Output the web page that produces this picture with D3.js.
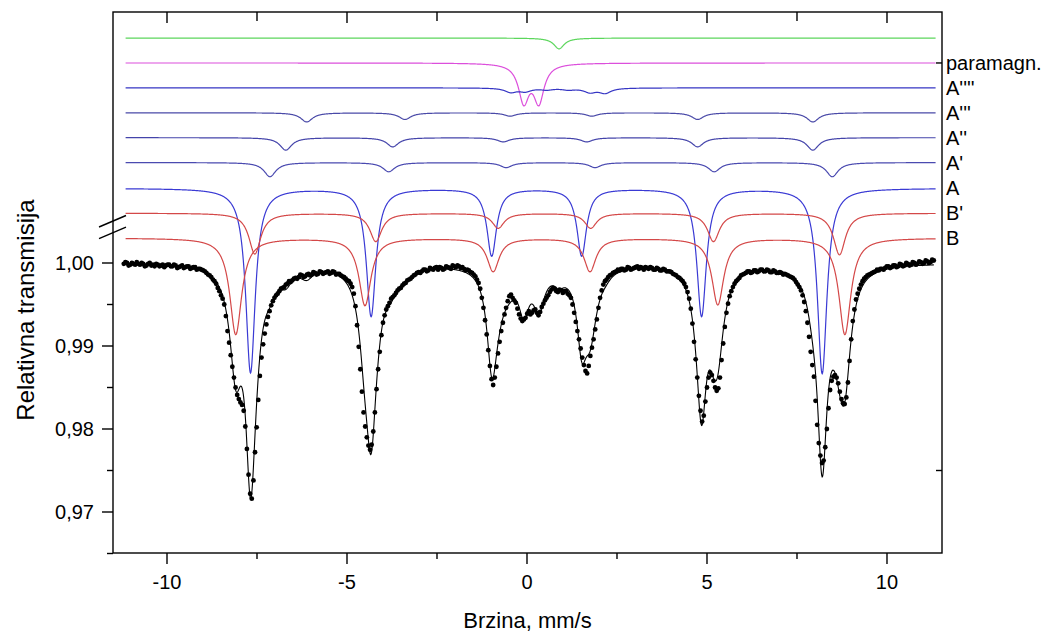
<!DOCTYPE html>
<html><head><meta charset="utf-8">
<script src="https://cdn.jsdelivr.net/npm/d3@7"></script>
<style>
body{margin:0;background:#fff}
svg{display:block}
text{font-family:Arial,"Liberation Sans",sans-serif;fill:#000}
</style></head>
<body><svg id="chart" width="1042" height="639"></svg>
<script>
// ---------- data ----------
const velStart = -11.20, velStep = 0.045;
const transmission = [
0.9999,1.0001,1.0000,0.9997,0.9998,1.0000,0.9999,0.9998,1.0001,0.9999,
0.9998,1.0000,0.9999,0.9996,0.9997,0.9999,1.0000,0.9997,0.9998,0.9996,
0.9999,0.9998,0.9996,0.9997,0.9998,0.9995,0.9997,0.9998,0.9998,0.9996,
0.9996,0.9998,0.9997,0.9994,0.9995,0.9996,0.9997,0.9994,0.9995,0.9996,
0.9996,0.9993,0.9994,0.9995,0.9995,0.9992,0.9993,0.9993,0.9992,0.9991,
0.9990,0.9988,0.9986,0.9985,0.9983,0.9980,0.9978,0.9975,0.9970,0.9966,
0.9961,0.9957,0.9950,0.9936,0.9918,0.9904,0.9889,0.9875,0.9862,0.9850,
0.9841,0.9836,0.9832,0.9829,0.9822,0.9803,0.9776,0.9745,0.9722,0.9716,
0.9738,0.9772,0.9802,0.9835,0.9864,0.9886,0.9902,0.9915,0.9926,0.9935,
0.9942,0.9949,0.9954,0.9958,0.9961,0.9963,0.9966,0.9969,0.9970,0.9971,
0.9974,0.9975,0.9978,0.9977,0.9979,0.9981,0.9982,0.9981,0.9983,0.9986,
0.9985,0.9983,0.9984,0.9986,0.9987,0.9985,0.9986,0.9989,0.9988,0.9986,
0.9987,0.9990,0.9989,0.9987,0.9988,0.9989,0.9990,0.9987,0.9988,0.9990,
0.9989,0.9986,0.9987,0.9987,0.9985,0.9984,0.9983,0.9981,0.9979,0.9978,
0.9975,0.9971,0.9963,0.9948,0.9925,0.9899,0.9872,0.9845,0.9820,0.9803,
0.9790,0.9780,0.9775,0.9781,0.9797,0.9820,0.9848,0.9872,0.9893,0.9913,
0.9928,0.9937,0.9944,0.9948,0.9952,0.9957,0.9959,0.9961,0.9964,0.9967,
0.9969,0.9970,0.9973,0.9975,0.9976,0.9979,0.9980,0.9981,0.9983,0.9985,
0.9986,0.9988,0.9989,0.9988,0.9990,0.9992,0.9992,0.9990,0.9991,0.9994,
0.9993,0.9992,0.9994,0.9995,0.9992,0.9995,0.9994,0.9992,0.9993,0.9996,
0.9995,0.9994,0.9993,0.9997,0.9996,0.9995,0.9997,0.9996,0.9994,0.9995,
0.9993,0.9991,0.9992,0.9991,0.9989,0.9988,0.9986,0.9984,0.9980,0.9976,
0.9969,0.9958,0.9946,0.9931,0.9914,0.9895,0.9876,0.9860,0.9853,0.9862,
0.9875,0.9891,0.9905,0.9918,0.9928,0.9938,0.9946,0.9954,0.9960,0.9962,
0.9958,0.9955,0.9952,0.9945,0.9938,0.9933,0.9930,0.9932,0.9934,0.9939,
0.9942,0.9938,0.9940,0.9943,0.9944,0.9940,0.9937,0.9941,0.9947,0.9951,
0.9955,0.9958,0.9961,0.9965,0.9968,0.9970,0.9969,0.9966,0.9965,0.9968,
0.9967,0.9964,0.9966,0.9966,0.9963,0.9961,0.9958,0.9950,0.9940,0.9929,
0.9918,0.9908,0.9897,0.9886,0.9877,0.9870,0.9867,0.9876,0.9888,0.9898,
0.9908,0.9920,0.9932,0.9946,0.9958,0.9967,0.9974,0.9978,0.9980,0.9983,
0.9985,0.9986,0.9988,0.9989,0.9990,0.9992,0.9991,0.9993,0.9993,0.9991,
0.9992,0.9995,0.9994,0.9992,0.9993,0.9994,0.9995,0.9996,0.9993,0.9995,
0.9994,0.9992,0.9995,0.9994,0.9993,0.9995,0.9994,0.9992,0.9992,0.9994,
0.9993,0.9991,0.9991,0.9993,0.9992,0.9990,0.9990,0.9990,0.9989,0.9987,
0.9986,0.9985,0.9983,0.9982,0.9980,0.9978,0.9975,0.9971,0.9965,0.9957,
0.9945,0.9927,0.9905,0.9884,0.9862,0.9840,0.9822,0.9809,0.9816,0.9833,
0.9850,0.9862,0.9868,0.9865,0.9858,0.9850,0.9846,0.9849,0.9862,0.9883,
0.9903,0.9923,0.9940,0.9951,0.9960,0.9966,0.9971,0.9975,0.9978,0.9980,
0.9982,0.9985,0.9986,0.9987,0.9988,0.9990,0.9990,0.9988,0.9989,0.9991,
0.9991,0.9989,0.9990,0.9992,0.9992,0.9990,0.9990,0.9992,0.9991,0.9989,
0.9989,0.9991,0.9990,0.9988,0.9988,0.9989,0.9988,0.9986,0.9987,0.9986,
0.9985,0.9984,0.9983,0.9982,0.9980,0.9977,0.9974,0.9971,0.9967,0.9961,
0.9953,0.9942,0.9928,0.9911,0.9893,0.9877,0.9863,0.9834,0.9805,0.9783,
0.9768,0.9759,0.9762,0.9778,0.9800,0.9825,0.9847,0.9858,0.9863,0.9865,
0.9862,0.9855,0.9845,0.9836,0.9831,0.9830,0.9838,0.9856,0.9882,0.9908,
0.9930,0.9944,0.9956,0.9963,0.9969,0.9974,0.9978,0.9981,0.9983,0.9985,
0.9986,0.9987,0.9988,0.9989,0.9990,0.9992,0.9991,0.9993,0.9993,0.9992,
0.9994,0.9996,0.9996,0.9994,0.9995,0.9997,0.9997,0.9995,0.9996,0.9999,
0.9998,0.9996,0.9997,1.0000,0.9999,0.9997,0.9998,1.0001,1.0000,0.9998,
0.9999,1.0002,1.0001,0.9999,1.0000,1.0003,1.0002,1.0000,1.0001,1.0004,
1.0003
];

// fitted subspectra (Lorentzian lines): names, offset levels, line positions (mm/s), depths, FWHM
const componentNames  = ["", "paramagn.", "A''''", "A'''", "A''", "A'", "A", "B'", "B"];
const componentLevels = [1.0271, 1.0241, 1.0211, 1.0181, 1.0151, 1.0121, 1.0090, 1.0060, 1.0030];
const componentPositions = [
  [0.89],
  [-0.09, 0.33],
  [-0.45, -0.05, 0.55, 1.15, 1.75, 2.17],
  [-6.12, -3.39, -0.47, 1.80, 4.74, 7.94],
  [-6.70, -3.73, -0.66, 1.66, 4.74, 7.94],
  [-7.14, -3.84, -0.58, 1.89, 5.20, 8.48],
  [-7.68, -4.33, -0.98, 1.52, 4.85, 8.20],
  [-7.56, -4.20, -0.80, 1.77, 5.18, 8.68],
  [-8.09, -4.50, -0.94, 1.75, 5.30, 8.83]
];
const componentDepths = [
  [0.0013],
  [0.0045, 0.0045],
  [0.0005, 0.0004, 0.0002, 0.0002, 0.0005, 0.0006],
  [0.0011, 0.0008, 0.0004, 0.0004, 0.0008, 0.0011],
  [0.0015, 0.0011, 0.0005, 0.0005, 0.0011, 0.0015],
  [0.0017, 0.0011, 0.0006, 0.0006, 0.0011, 0.0017],
  [0.0222, 0.0154, 0.0081, 0.0081, 0.0154, 0.0223],
  [0.0049, 0.0034, 0.0018, 0.0018, 0.0034, 0.0050],
  [0.0116, 0.0081, 0.0040, 0.0040, 0.0080, 0.0116]
];
const componentWidths = [0.35, 0.35, 0.40, 0.40, 0.40, 0.40, 0.32, 0.40, 0.40];
const componentColors = ["#5cd65c", "#dc4fdc", "#3636c4", "#4a4aa8", "#4444aa", "#4a4ab0", "#3a3ad4", "#d44848", "#d44848"];

const xMajorTicks = [-10, -5, 0, 5, 10];
const xMinorTicks = [-7.5, -2.5, 2.5, 7.5];
const yMajorTicks = [0.97, 0.98, 0.99, 1.00];
const yMinorTicks = [0.965, 0.975, 0.985, 0.995];
const rightTicks  = [componentLevels[1], 0.975];

const xTitle = "Brzina, mm/s";
const yTitle = "Relativna transmisija";

// ---------- layout ----------
const L = 113, R = 942, T = 12, B = 553;
const svg = d3.select("#chart");
const x = d3.scaleLinear().domain([-11.5, 11.528]).range([L, R]);
const y = d3.scaleLinear().domain([0.97, 1.00]).range([512, 263]);

const lor = (v, c, a, w) => a / (1 + Math.pow((v - c) / (w / 2), 2));
const compAbs = (k, v) => d3.sum(componentPositions[k], (c, j) => lor(v, c, componentDepths[k][j], componentWidths[k]));

// component curves
const grid = d3.range(-11.15, 11.36, 0.01);
const line = d3.line().x(d => d[0]).y(d => d[1]);
componentNames.forEach((name, k) => {
  svg.append("path")
    .attr("d", line(grid.map(v => [x(v), y(componentLevels[k] - compAbs(k, v))])))
    .attr("fill", "none").attr("stroke", componentColors[k]).attr("stroke-width", 1.2);
  if (name) {
    svg.append("text").attr("x", R + 4).attr("y", y(componentLevels[k]))
      .attr("dy", "0.35em").attr("font-size", 20).text(name);
  }
});

// experimental points
const pts = transmission.map((t, i) => [velStart + i * velStep, t]);

// total fit
const fitGrid = d3.range(-11.2, 11.31, 0.01);
svg.append("path")
  .attr("d", line(fitGrid.map(v => [x(v), y(1 - d3.sum(componentNames, (n, k) => compAbs(k, v)))])))
  .attr("fill", "none").attr("stroke", "#000").attr("stroke-width", 1.1);

svg.append("g").selectAll("circle").data(pts).join("circle")
  .attr("cx", d => x(d[0])).attr("cy", d => y(d[1])).attr("r", 2.4).attr("fill", "#000");

// ---------- axes ----------
const ax = svg.append("g").attr("stroke", "#000").attr("stroke-width", 1.4);
ax.append("rect").attr("x", L).attr("y", T).attr("width", R - L).attr("height", B - T).attr("fill", "none");

xMajorTicks.forEach(v => {
  ax.append("line").attr("x1", x(v)).attr("x2", x(v)).attr("y1", B).attr("y2", B + 11);
  ax.append("line").attr("x1", x(v)).attr("x2", x(v)).attr("y1", T).attr("y2", T + 11);
});
xMinorTicks.forEach(v => {
  ax.append("line").attr("x1", x(v)).attr("x2", x(v)).attr("y1", B).attr("y2", B + 6);
  ax.append("line").attr("x1", x(v)).attr("x2", x(v)).attr("y1", T).attr("y2", T + 9);
});
yMajorTicks.forEach(v => ax.append("line").attr("x1", L - 11).attr("x2", L).attr("y1", y(v)).attr("y2", y(v)));
yMinorTicks.forEach(v => ax.append("line").attr("x1", L - 6).attr("x2", L).attr("y1", y(v)).attr("y2", y(v)));
rightTicks.forEach(v => ax.append("line").attr("x1", R - 6).attr("x2", R).attr("y1", y(v)).attr("y2", y(v)));

// axis break marks
[1.0050, 1.0036].forEach(v => {
  ax.append("line").attr("x1", L - 14).attr("x2", L + 13)
    .attr("y1", y(v) + 5.5).attr("y2", y(v) - 6);
});

// tick labels
const fmtX = v => String(v);
const fmtY = v => v.toFixed(2).replace(".", ",");
svg.append("g").selectAll("text").data(xMajorTicks).join("text")
  .attr("x", d => x(d)).attr("y", B + 36).attr("text-anchor", "middle")
  .attr("font-size", 20).text(fmtX);
svg.append("g").selectAll("text").data(yMajorTicks).join("text")
  .attr("x", L - 19).attr("y", d => y(d)).attr("dy", "0.35em").attr("text-anchor", "end")
  .attr("font-size", 20).text(fmtY);

// titles
svg.append("text").attr("x", (L + R) / 2).attr("y", 628).attr("text-anchor", "middle")
  .attr("font-size", 22).text(xTitle);
svg.append("text").attr("transform", `translate(34,${310}) rotate(-90)`).attr("text-anchor", "middle")
  .attr("font-size", 24).text(yTitle);
</script>
</body></html>
